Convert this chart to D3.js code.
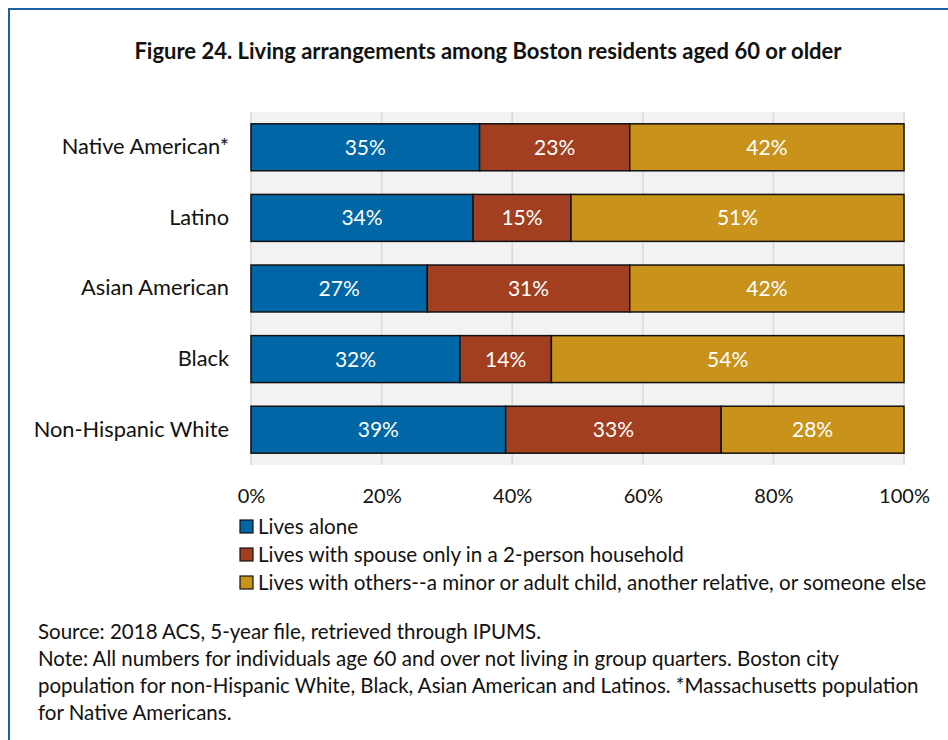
<!DOCTYPE html>
<html>
<head>
<meta charset="utf-8">
<script src="https://cdn.jsdelivr.net/npm/d3@7"></script>
<style>
  html, body { margin: 0; padding: 0; background: #fff; }
  svg text { font-family: Lato, "Open Sans", sans-serif; }
</style>
</head>
<body>
<svg id="chart" width="948" height="740"></svg>
<script>
// Living arrangements by group (shares of residents 60+)
const groups = ["Native American*", "Latino", "Asian American", "Black", "Non-Hispanic White"];
const seriesNames = [
  "Lives alone",
  "Lives with spouse only in a 2-person household",
  "Lives with others--a minor or adult child, another relative, or someone else"
];
const livesAlone   = [35, 34, 27, 32, 39];
const withSpouse   = [23, 15, 31, 14, 33];
const withOthers   = [42, 51, 42, 54, 28];
const tickValues   = [0, 20, 40, 60, 80, 100];
const colors = ["#0066a6", "#a13f20", "#c8921b"];

const title = "Figure 24. Living arrangements among Boston residents aged 60 or older";
const footLines = [
  "Source: 2018 ACS, 5-year file, retrieved through IPUMS.",
  "Note: All numbers for individuals age 60 and over not living in group quarters. Boston city",
  "population for non-Hispanic White, Black, Asian American and Latinos. *Massachusetts population",
  "for Native Americans."
];

const svg = d3.select("#chart");

// frame
svg.append("rect")
  .attr("x", 9).attr("y", 9).attr("width", 960).attr("height", 760)
  .attr("fill", "none").attr("stroke", "#1d62a0").attr("stroke-width", 2);

svg.append("text")
  .attr("x", 488).attr("y", 59)
  .attr("text-anchor", "middle")
  .attr("font-size", 22).attr("font-weight", "bold").attr("fill", "#111")
  .text(title);

const plot = { left: 251, right: 904, top: 112, bottom: 465 };

const x = d3.scaleLinear().domain([0, 100]).range([plot.left, plot.right]);
const y = d3.scaleBand().domain(groups).range([plot.top, plot.bottom]).paddingInner(0.335).paddingOuter(0.1675);

// plot background
svg.append("rect")
  .attr("x", plot.left - 1).attr("y", plot.top)
  .attr("width", plot.right - plot.left + 2).attr("height", plot.bottom - plot.top)
  .attr("fill", "#f2f2f2");

// vertical gridlines
svg.append("g")
  .selectAll("line")
  .data(tickValues)
  .join("line")
  .attr("x1", d => x(d)).attr("x2", d => x(d))
  .attr("y1", plot.top).attr("y2", plot.bottom)
  .attr("stroke", "#d9d9d9").attr("stroke-width", 1.5);

// stacked data
const rows = groups.map((g, i) => ({ group: g, a: livesAlone[i], b: withSpouse[i], c: withOthers[i] }));
const stack = d3.stack().keys(["a", "b", "c"])(rows);

const layer = svg.append("g")
  .selectAll("g")
  .data(stack)
  .join("g")
  .attr("fill", (d, i) => colors[i]);

layer.selectAll("rect")
  .data(d => d)
  .join("rect")
  .attr("x", d => x(d[0]))
  .attr("y", d => y(d.data.group))
  .attr("width", d => x(d[1]) - x(d[0]))
  .attr("height", y.bandwidth())
  .attr("stroke", "#111").attr("stroke-width", 1.5);

layer.selectAll("text")
  .data(d => d)
  .join("text")
  .attr("x", d => (x(d[0]) + x(d[1])) / 2)
  .attr("y", d => y(d.data.group) + y.bandwidth() / 2)
  .attr("dy", "0.36em")
  .attr("text-anchor", "middle")
  .attr("font-size", 21).attr("fill", "#fff")
  .text(d => (d[1] - d[0]) + "%");

// category axis
const yAxis = d3.axisLeft(y).tickSize(0).tickPadding(22);
svg.append("g")
  .attr("transform", `translate(${plot.left},0)`)
  .call(yAxis)
  .call(g => g.select(".domain").remove())
  .call(g => g.selectAll("text")
    .attr("font-size", 21.8).attr("fill", "#111")
    .style("font-family", "Lato, 'Open Sans', sans-serif"));

// value axis
const xAxis = d3.axisBottom(x).tickValues(tickValues).tickFormat(d => d + "%").tickSize(0).tickPadding(24);
svg.append("g")
  .attr("transform", `translate(0,${plot.bottom})`)
  .call(xAxis)
  .call(g => g.select(".domain").remove())
  .call(g => g.selectAll("text")
    .attr("font-size", 20).attr("fill", "#111")
    .style("font-family", "Lato, 'Open Sans', sans-serif"));

// legend
const legend = svg.append("g")
  .selectAll("g")
  .data(seriesNames)
  .join("g")
  .attr("transform", (d, i) => `translate(240,${527 + i * 28})`);

legend.append("rect")
  .attr("x", 0).attr("y", -7).attr("width", 13).attr("height", 13)
  .attr("fill", (d, i) => colors[i]).attr("stroke", "#111").attr("stroke-width", 1.2);

legend.append("text")
  .attr("x", 18).attr("y", 0).attr("dy", "0.35em")
  .attr("font-size", 20.6).attr("fill", "#111")
  .text(d => d);

// source and notes
svg.append("g")
  .selectAll("text")
  .data(footLines)
  .join("text")
  .attr("x", 38)
  .attr("y", (d, i) => 632 + i * 27)
  .attr("dy", "0.35em")
  .attr("font-size", 20.5).attr("fill", "#111")
  .text(d => d);
</script>
</body>
</html>
